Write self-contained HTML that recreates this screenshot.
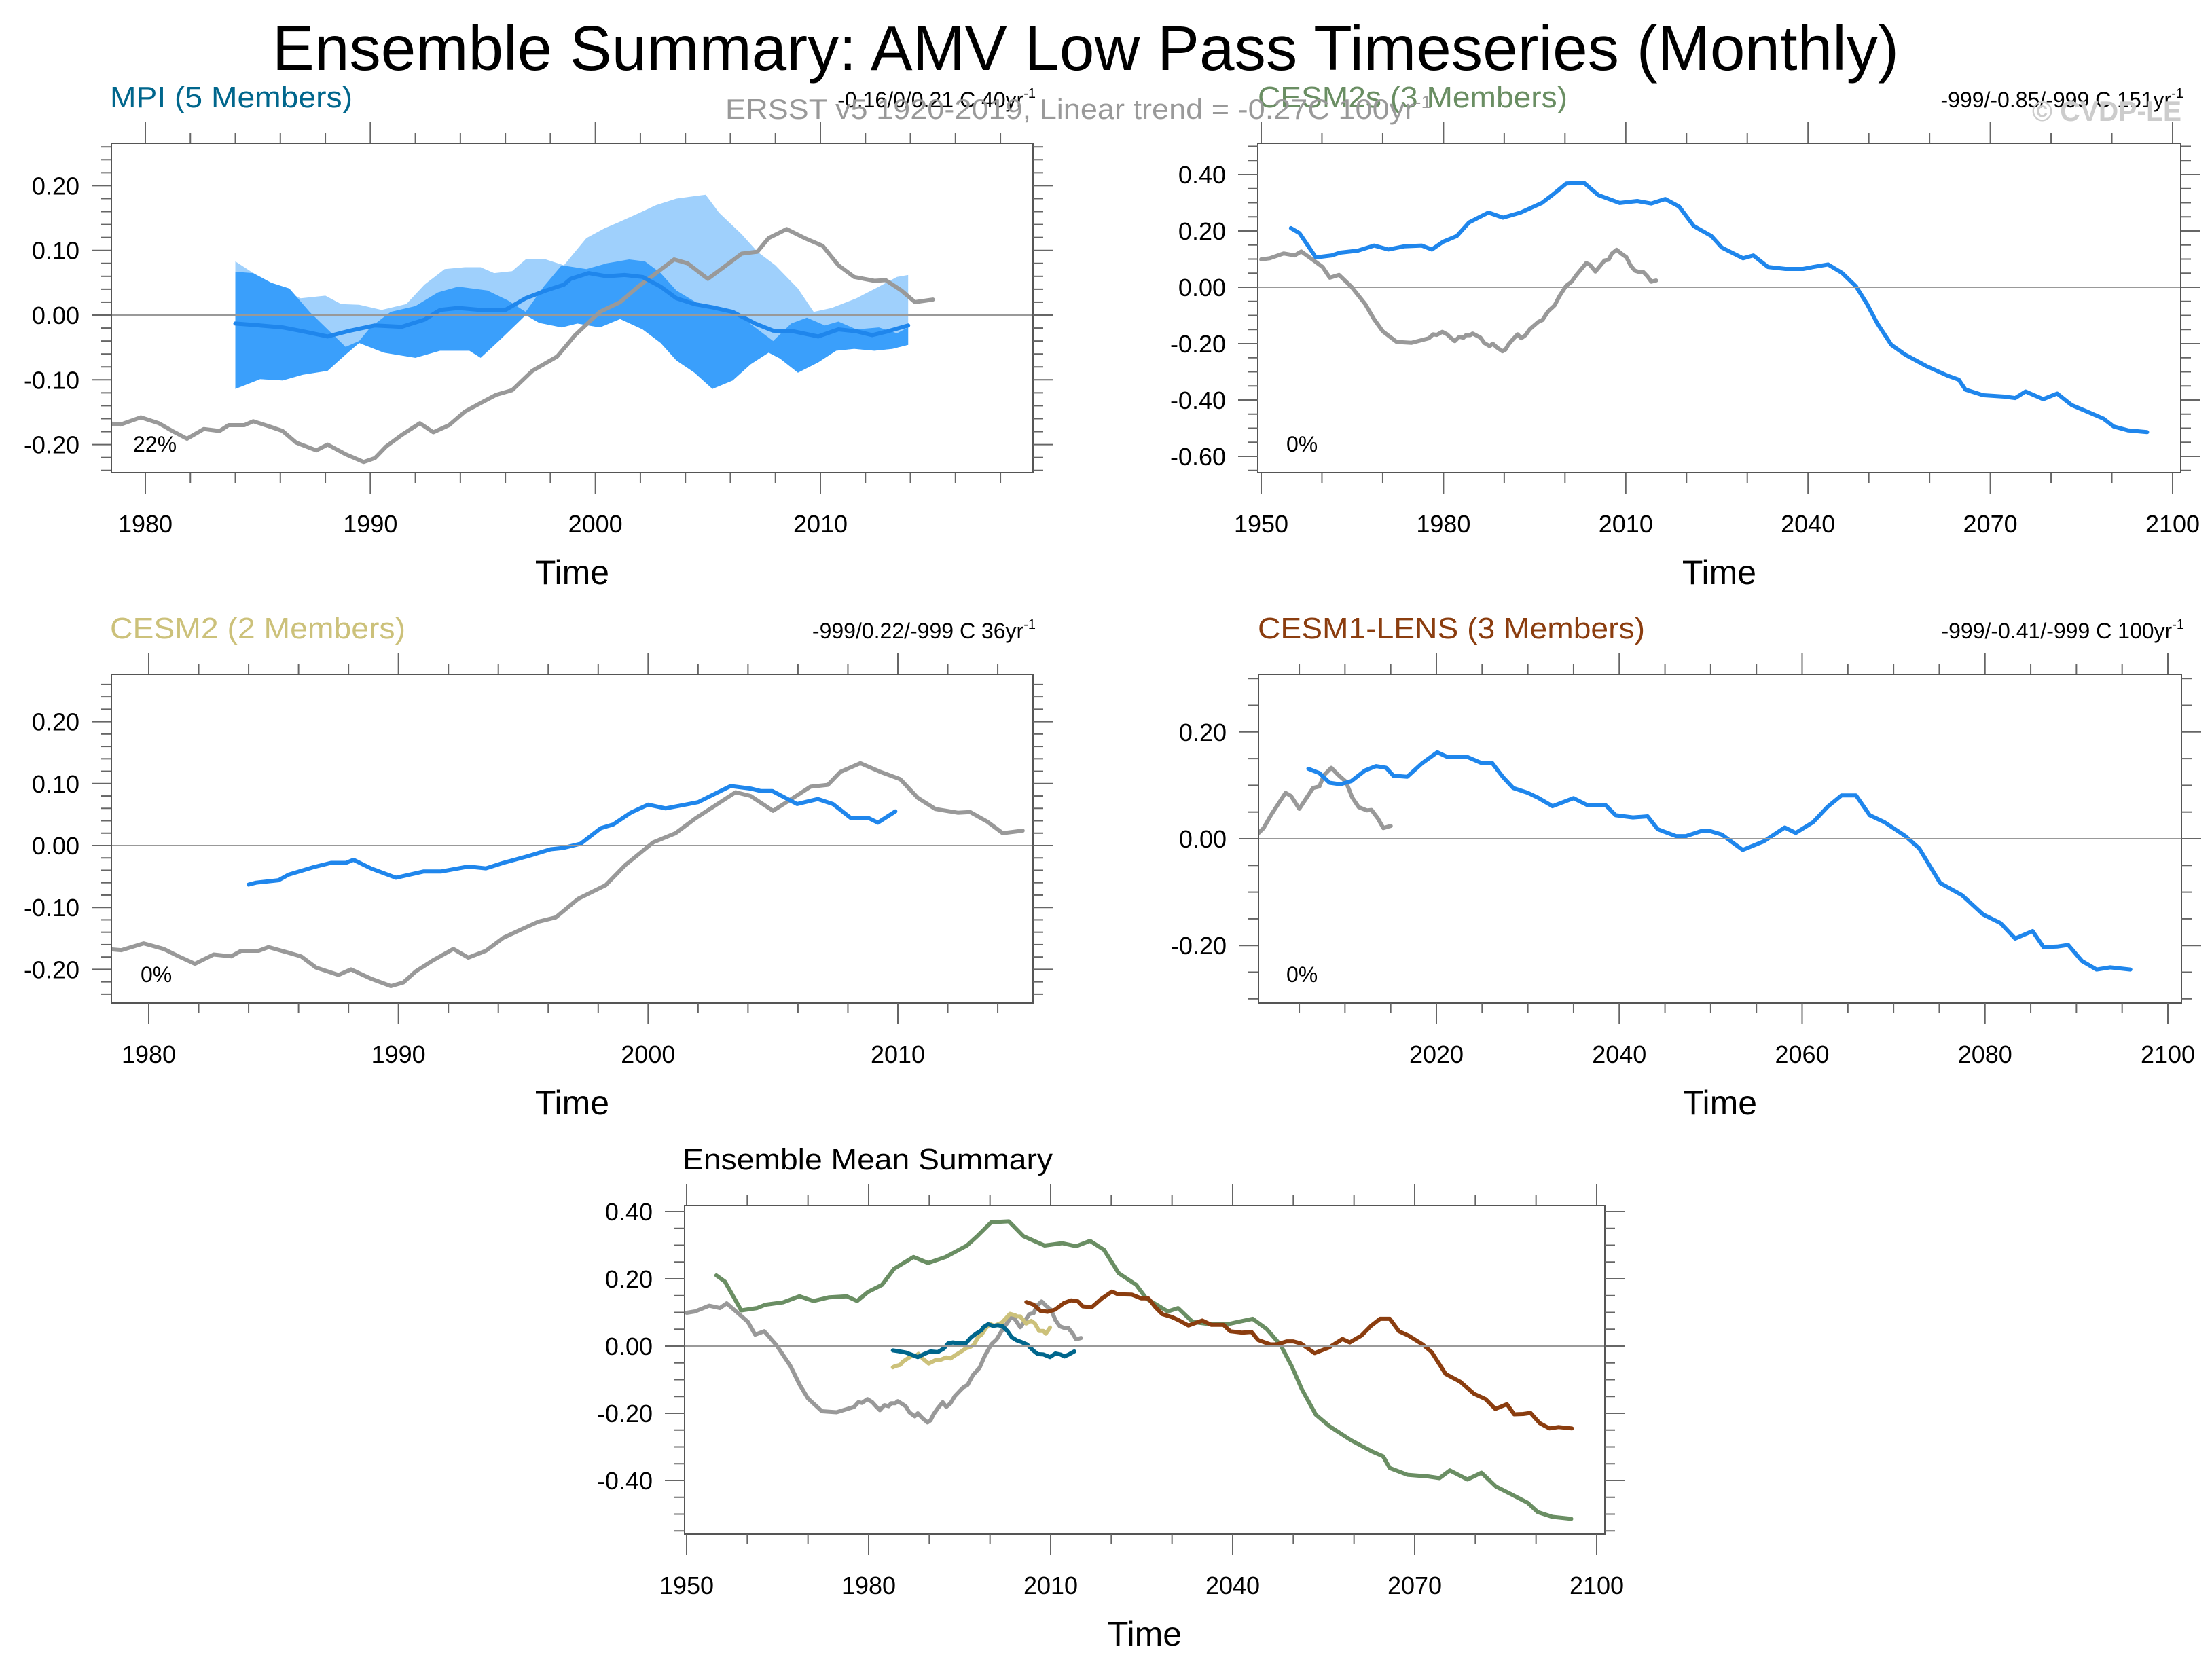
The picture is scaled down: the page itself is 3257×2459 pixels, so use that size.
<!DOCTYPE html>
<html><head><meta charset="utf-8"><style>
html,body{margin:0;padding:0;background:#fff}
svg{display:block;font-family:"Liberation Sans",sans-serif}
</style></head><body>
<svg id="chart" xmlns="http://www.w3.org/2000/svg" width="3257" height="2459" viewBox="0 0 3257 2459">
<rect width="3257" height="2459" fill="#fff"/>
<text x="401" y="103" font-size="93" textLength="2395" lengthAdjust="spacingAndGlyphs">Ensemble Summary: AMV Low Pass Timeseries (Monthly)</text>
<g id="plots"></g>
<text x="1068" y="175" font-size="42" fill="#999" textLength="1040" lengthAdjust="spacingAndGlyphs">ERSST v5 1920-2019, Linear trend = -0.27C 100yr<tspan font-size="26" dy="-16">-1</tspan></text>
<text x="2992" y="178" font-size="42" font-weight="bold" fill="#ccc" textLength="220" lengthAdjust="spacingAndGlyphs">© CVDP-LE</text>
</svg>
<script>
// ---- data (year, value) ----
const obsYears=[1950,1951.4,1953.7,1955.5,1956.6,1958.4,1960.1,1961.3,1962.8,1964.8,1967.1,1968.6,1970,1972.3,1974.7,1977.6,1978.3,1978.9,1979.8,1980.6,1981.2,1981.85,1982.6,1983.3,1983.7,1984.4,1984.8,1985.6,1986.1,1986.7,1987.6,1988.1,1988.9,1989.7,1990.2,1990.7,1991.4,1992.2,1992.8,1993.5,1994.2,1995,1995.6,1996.3,1997.2,1998.3,1999.1,2000.2,2001.1,2001.9,2002.7,2003.5,2004.1,2005,2005.7,2006.5,2007.2,2007.7,2008.5,2009.3,2010.1,2010.8,2011.5,2012.4,2012.9,2013.6,2014.2,2015];
const obsVals=[0.099,0.103,0.12,0.113,0.127,0.099,0.072,0.034,0.044,0.003,-0.059,-0.114,-0.156,-0.194,-0.197,-0.181,-0.167,-0.169,-0.158,-0.167,-0.179,-0.191,-0.176,-0.179,-0.17,-0.17,-0.164,-0.173,-0.179,-0.197,-0.209,-0.2,-0.215,-0.227,-0.221,-0.203,-0.185,-0.167,-0.181,-0.17,-0.149,-0.134,-0.123,-0.116,-0.086,-0.064,-0.031,0.005,0.02,0.044,0.065,0.086,0.08,0.056,0.074,0.095,0.098,0.119,0.133,0.119,0.107,0.077,0.059,0.053,0.054,0.038,0.02,0.024];

const mpiYears=[1984,1985.1,1986.1,1987,1988.1,1989.1,1990.2,1991.4,1992.4,1993.1,1993.9,1994.9,1996,1996.9,1997.8,1998.6,1998.9,1999.7,2000.5,2001.3,2002.1,2002.9,2003.6,2004.4,2005.2,2006.1,2007.1,2007.9,2008.8,2009.9,2010.8,2011.6,2012.3,2013,2013.9];
const mpiVals=[-0.013,-0.016,-0.019,-0.025,-0.033,-0.024,-0.016,-0.018,-0.007,0.008,0.011,0.008,0.008,0.026,0.038,0.047,0.056,0.065,0.06,0.062,0.059,0.044,0.026,0.017,0.012,0.005,-0.013,-0.024,-0.025,-0.033,-0.022,-0.025,-0.031,-0.025,-0.016];

const darkUpYears=[1984,1984.8,1985.6,1986.4,1987.3,1988.1,1988.9,1989.5,1990,1990.9,1992,1993,1993.9,1995.2,1996.1,1996.9,1997.7,1998.5,1999.6,2000.5,2001.5,2002.2,2002.9,2003.6,2004.6,2005.6,2006.3,2007.1,2007.9,2008.7,2009.4,2010.2,2010.8,2011.6,2012.6,2013.4,2013.9];
const darkUpVals=[0.067,0.065,0.05,0.041,0.005,-0.022,-0.049,-0.04,-0.019,0.005,0.014,0.035,0.044,0.038,0.023,0.005,0.044,0.077,0.071,0.08,0.086,0.083,0.065,0.038,0.017,0.008,0.002,-0.019,-0.04,-0.013,-0.004,-0.016,-0.01,-0.022,-0.019,-0.028,-0.019];
const darkLoYears=[1984,1985.1,1986.1,1987,1988.1,1988.9,1989.5,1990.6,1992,1993.1,1994.4,1994.9,1995.8,1996.9,1997.5,1998.5,1999.2,2000.2,2001.1,2002.1,2002.9,2003.6,2004.4,2005.2,2006.1,2006.9,2007.7,2008.2,2009,2009.9,2010.7,2011.5,2012.4,2013.2,2013.9];
const darkLoVals=[-0.114,-0.099,-0.101,-0.092,-0.086,-0.061,-0.043,-0.058,-0.066,-0.055,-0.055,-0.066,-0.037,0,-0.012,-0.019,-0.013,-0.019,-0.006,-0.022,-0.043,-0.07,-0.089,-0.114,-0.101,-0.076,-0.058,-0.067,-0.089,-0.073,-0.055,-0.052,-0.055,-0.052,-0.046];
const lightUpYears=[1984,1984.8,1985.8,1986.9,1988,1988.7,1989.5,1990.5,1991.6,1992.4,1993.3,1994.2,1994.9,1995.5,1996.3,1996.9,1997.8,1998.6,1999.6,2000.4,2001,2001.9,2002.7,2003.6,2004.9,2005.5,2006.5,2007.2,2008,2009,2009.7,2010.5,2011.6,2012.6,2013.4,2013.9];
const lightUpVals=[0.083,0.065,0.044,0.026,0.03,0.017,0.016,0.008,0.017,0.047,0.071,0.074,0.074,0.065,0.068,0.086,0.086,0.077,0.119,0.134,0.143,0.157,0.17,0.18,0.186,0.158,0.125,0.098,0.077,0.041,0.005,0.011,0.026,0.044,0.059,0.062];

const c2sYears=[1954.9,1956.3,1959,1961.6,1963,1965.9,1968.6,1970.9,1973.5,1976.4,1978.1,1979.9,1982.2,1984.2,1987.4,1989.8,1992.7,1996.2,1997.9,2000.2,2003.1,2005.5,2009,2011.9,2014.2,2016.5,2018.8,2021.2,2024.1,2025.8,2029.3,2031,2033.4,2036.3,2039.2,2040.9,2043.3,2045.6,2047.9,2049.7,2051.4,2053.7,2056,2059.5,2063,2064.8,2065.9,2068.8,2072.3,2074.1,2075.8,2078.7,2081,2083.4,2085.7,2088.6,2090.3,2092.7,2095.8];
const c2sVals=[0.21,0.192,0.106,0.113,0.123,0.13,0.148,0.134,0.145,0.148,0.134,0.161,0.182,0.23,0.265,0.247,0.265,0.299,0.327,0.368,0.371,0.327,0.299,0.306,0.297,0.313,0.286,0.217,0.182,0.141,0.103,0.113,0.072,0.065,0.065,0.072,0.081,0.051,0.003,-0.059,-0.128,-0.204,-0.239,-0.28,-0.314,-0.328,-0.363,-0.383,-0.388,-0.393,-0.37,-0.397,-0.377,-0.418,-0.439,-0.466,-0.494,-0.508,-0.514];

const c2Years=[1984,1984.3,1985.2,1985.6,1986.6,1987.3,1987.9,1988.2,1988.9,1989.9,1991,1991.7,1992.8,1993.5,1994.2,1995.2,1996.1,1996.6,1997.3,1998.1,1998.6,1999.3,2000,2000.7,2002,2002.6,2003.3,2004.1,2004.5,2004.97,2005.96,2006.8,2007.4,2008.1,2008.8,2009.2,2009.9];
const c2Vals=[-0.063,-0.06,-0.056,-0.047,-0.035,-0.028,-0.028,-0.023,-0.037,-0.052,-0.042,-0.042,-0.034,-0.037,-0.028,-0.017,-0.006,-0.004,0.003,0.028,0.034,0.053,0.066,0.06,0.07,0.082,0.096,0.092,0.088,0.088,0.067,0.075,0.067,0.045,0.045,0.037,0.055];

const c1Years=[2006,2007.2,2008.3,2009.5,2010.7,2012.2,2013.4,2014.5,2015.3,2016.8,2018.4,2020.1,2021.1,2023.4,2024.9,2026.1,2027.3,2028.4,2030,2031.1,2032.7,2035,2036.5,2038.5,2039.6,2041.5,2043.1,2044.2,2046.2,2047.3,2048.9,2050,2051.2,2053.5,2055.8,2058.1,2059.3,2061.2,2062.8,2064.3,2065.9,2067.4,2069,2071.3,2072.8,2075.1,2077.5,2079.8,2081.7,2083.3,2085.2,2086.4,2087.9,2089.1,2090.6,2092.2,2093.7,2095.9];
const c1Vals=[0.131,0.123,0.105,0.102,0.108,0.128,0.136,0.133,0.118,0.116,0.141,0.162,0.154,0.153,0.142,0.142,0.115,0.095,0.086,0.077,0.061,0.076,0.063,0.063,0.044,0.04,0.042,0.018,0.005,0.005,0.014,0.014,0.008,-0.021,-0.005,0.021,0.011,0.031,0.06,0.081,0.081,0.044,0.031,0.005,-0.018,-0.083,-0.106,-0.142,-0.158,-0.187,-0.173,-0.203,-0.202,-0.199,-0.229,-0.245,-0.241,-0.245];

// tick labels
const yLabels1=["0.20","0.10","0.00","-0.10","-0.20"], yTicks1=[0.2,0.1,0,-0.1,-0.2];
const yLabels2=["0.40","0.20","0.00","-0.20","-0.40","-0.60"], yTicks2=[0.4,0.2,0,-0.2,-0.4,-0.6];
const yLabels4=["0.20","0.00","-0.20"], yTicks4=[0.2,0,-0.2];
const yLabels5=["0.40","0.20","0.00","-0.20","-0.40"], yTicks5=[0.4,0.2,0,-0.2,-0.4];
const xTicksA=[1980,1990,2000,2010], xTicksB=[1950,1980,2010,2040,2070,2100], xTicksC=[2020,2040,2060,2080,2100];

const NS="http://www.w3.org/2000/svg";
const root=document.getElementById('plots');
function el(tag,attrs,parent){const e=document.createElementNS(NS,tag);for(const k in attrs)e.setAttribute(k,attrs[k]);(parent||root).appendChild(e);return e;}
let clipId=0;
function panel(cfg){
  const g=el('g',{});
  
  
  const [x0,x1,y0,y1]=cfg.box;
  const X=yr=>cfg.xr[1]+(yr-cfg.xr[0])*(cfg.xr[3]-cfg.xr[1])/(cfg.xr[2]-cfg.xr[0]);
  const Y=v=>cfg.yz-v*cfg.yp;
  const vmin=(cfg.yz-y1)/cfg.yp, vmax=(cfg.yz-y0)/cfg.yp;
  const ymn=(x0-cfg.xr[1])*(cfg.xr[2]-cfg.xr[0])/(cfg.xr[3]-cfg.xr[1])+cfg.xr[0];
  const ymx=(x1-cfg.xr[1])*(cfg.xr[2]-cfg.xr[0])/(cfg.xr[3]-cfg.xr[1])+cfg.xr[0];
  const id='clip'+(clipId++);
  const cp=el('clipPath',{id:id},g);el('rect',{x:x0,y:y0,width:x1-x0,height:y1-y0},cp);
  const data=el('g',{'clip-path':'url(#'+id+')'},g);
  // bands
  function band(uy,uv,ly,lv,fill,nm){
    let d='M'+uy.map((y,i)=>X(y).toFixed(1)+','+Y(uv[i]).toFixed(1)).join('L');
    for(let i=ly.length-1;i>=0;i--)d+='L'+X(ly[i]).toFixed(1)+','+Y(lv[i]).toFixed(1);
    const p=el('path',{d:d+'Z',fill:fill},data);
    
    
  }
  if(cfg.bands){band(lightUpYears,lightUpVals,darkLoYears,darkLoVals,'#9fd0fc','mpi-range-band');band(darkUpYears,darkUpVals,darkLoYears,darkLoVals,'#3a9ffb','mpi-spread-band');}
  // zero line
  const z=el('line',{x1:x0-29,x2:x1+29,y1:Y(0),y2:Y(0),stroke:'#999','stroke-width':2},g);
  
  
  cfg.series.forEach(s=>{
    const p=el('polyline',{points:s.x.map((y,i)=>X(y).toFixed(1)+','+Y(s.v[i]).toFixed(1)).join(' '),fill:'none',stroke:s.c,'stroke-width':6,'stroke-linejoin':'round','stroke-linecap':'round'},data);
    
    
  });
  el('rect',{x:x0,y:y0,width:x1-x0,height:y1-y0,fill:'none',stroke:'#555','stroke-width':2},g);
  // y ticks
  const st=cfg.ymin;
  for(let v=Math.ceil(vmin/st-1e-6)*st;v<=vmax+1e-9;v+=st){
    const isMaj=cfg.yt.some(t=>Math.abs(t-v)<1e-6);const L=isMaj?29:15;
    el('line',{x1:x0-L,x2:x0,y1:Y(v),y2:Y(v),stroke:'#666','stroke-width':2},g);
    el('line',{x1:x1,x2:x1+L,y1:Y(v),y2:Y(v),stroke:'#666','stroke-width':2},g);
  }
  cfg.yt.forEach((v,i)=>{const t=el('text',{x:x0-47,y:Y(v)+13,'font-size':36,'text-anchor':'end'},g);t.textContent=cfg.yl[i];
    
    });
  // x ticks
  const xs=cfg.xmin;
  for(let yr=Math.ceil(ymn/xs-1e-6)*xs;yr<=ymx+1e-9;yr+=xs){
    const isMaj=cfg.xt.some(t=>Math.abs(t-yr)<1e-6);const L=isMaj?31:15;
    el('line',{x1:X(yr),x2:X(yr),y1:y0-L,y2:y0,stroke:'#666','stroke-width':2},g);
    el('line',{x1:X(yr),x2:X(yr),y1:y1,y2:y1+L,stroke:'#666','stroke-width':2},g);
  }
  cfg.xt.forEach(yr=>{const t=el('text',{x:X(yr),y:y1+88,'font-size':36,'text-anchor':'middle'},g);t.textContent=yr;
    
    });
  const tt=el('text',{x:(x0+x1)/2,y:y1+164,'font-size':50,'text-anchor':'middle'},g);tt.textContent='Time';
  
  
  const ti=el('text',{x:cfg.tx,y:y0-53,'font-size':44,fill:cfg.tc,textLength:cfg.tw,lengthAdjust:'spacingAndGlyphs'},g);ti.textContent=cfg.title;
  
  
  if(cfg.trend){const tr=el('text',{x:x1+4,y:y0-53,'font-size':32,'text-anchor':'end'},g);tr.innerHTML=cfg.trend+'<tspan font-size="20" dy="-14">-1</tspan>';
    
    }
  if(cfg.pct){const pc=el('text',{x:cfg.pct[1],y:y1-31,'font-size':32},g);pc.textContent=cfg.pct[0];
    
    }
}
const BLUE='#1f86ec', GRAY='#999';
panel({name:'mpi-panel',box:[164,1521,211,696],xr:[1980,214,2010,1208],yz:464,yp:953,ymin:0.02,yt:yTicks1,yl:yLabels1,xmin:2,xt:xTicksA,
  bands:true,series:[{x:obsYears,v:obsVals,c:GRAY,n:'obs-line'},{x:mpiYears,v:mpiVals,c:BLUE,n:'mpi-mean-line'}],
  title:'MPI (5 Members)',tc:'#00668c',tx:162,tw:357,trend:'-0.16/0/0.21 C 40yr',pct:['22%',196]});
panel({name:'cesm2s-panel',box:[1852,3211,211,696],xr:[1950,1857,2100,3199],yz:423,yp:415,ymin:0.05,yt:yTicks2,yl:yLabels2,xmin:10,xt:xTicksB,
  series:[{x:obsYears,v:obsVals,c:GRAY,n:'obs-line'},{x:c2sYears,v:c2sVals,c:BLUE,n:'cesm2s-mean-line'}],
  title:'CESM2s (3 Members)',tc:'#6a8e63',tx:1852,tw:456,trend:'-999/-0.85/-999 C 151yr',pct:['0%',1894]});
panel({name:'cesm2-panel',box:[164,1521,993,1477],xr:[1980,219,2010,1322],yz:1245,yp:912,ymin:0.02,yt:yTicks1,yl:yLabels1,xmin:2,xt:xTicksA,
  series:[{x:obsYears,v:obsVals,c:GRAY,n:'obs-line'},{x:c2Years,v:c2Vals,c:BLUE,n:'cesm2-mean-line'}],
  title:'CESM2 (2 Members)',tc:'#ccc17a',tx:162,tw:435,trend:'-999/0.22/-999 C 36yr',pct:['0%',207]});
panel({name:'cesm1-lens-panel',box:[1853,3212,993,1477],xr:[2020,2115,2100,3192],yz:1235,yp:786,ymin:0.05,yt:yTicks4,yl:yLabels4,xmin:5,xt:xTicksC,
  series:[{x:obsYears,v:obsVals,c:GRAY,n:'obs-line'},{x:c1Years,v:c1Vals,c:BLUE,n:'cesm1-mean-line'}],
  title:'CESM1-LENS (3 Members)',tc:'#8b3d0f',tx:1852,tw:570,trend:'-999/-0.41/-999 C 100yr',pct:['0%',1894]});
panel({name:'ensemble-mean-panel',box:[1008,2363,1775,2259],xr:[1950,1011,2100,2351],yz:1982,yp:495,ymin:0.05,yt:yTicks5,yl:yLabels5,xmin:10,xt:xTicksB,
  series:[{x:obsYears,v:obsVals,c:GRAY,n:'obs-line'},{x:c2sYears,v:c2sVals,c:'#6a8e63',n:'cesm2s-line'},{x:c1Years,v:c1Vals,c:'#8b3d0f',n:'cesm1-line'},{x:c2Years,v:c2Vals,c:'#ccc17a',n:'cesm2-line'},{x:mpiYears,v:mpiVals,c:'#00668c',n:'mpi-line'}],
  title:'Ensemble Mean Summary',tc:'#000',tx:1005,tw:545});
</script>
</body></html>
